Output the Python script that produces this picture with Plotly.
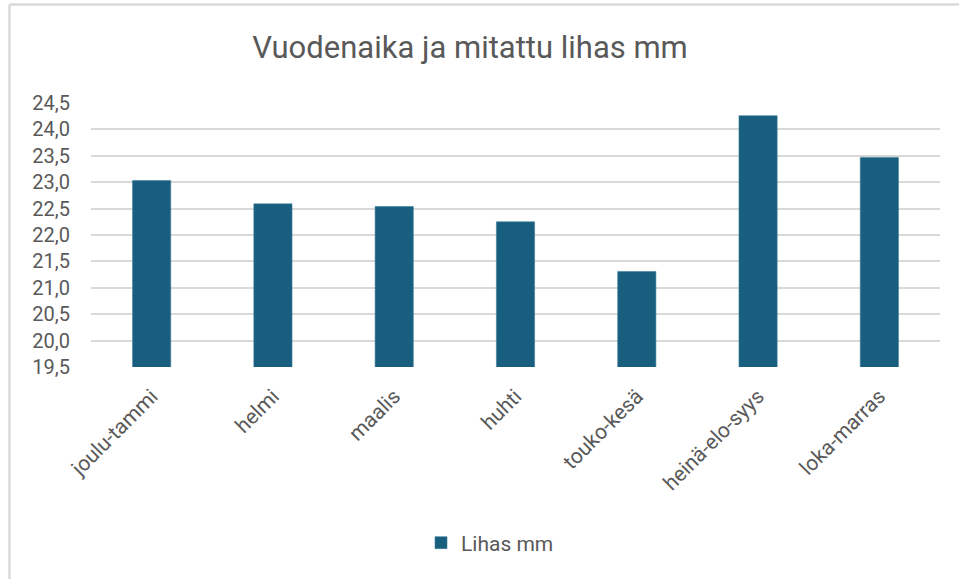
import plotly.graph_objects as go

categories = ["joulu-tammi", "helmi", "maalis", "huhti", "touko-kesä", "heinä-elo-syys", "loka-marras"]
lihas_mm = [23.03, 22.59, 22.54, 22.25, 21.31, 24.26, 23.47]
series_name = "Lihas mm"
title_text = "Vuodenaika ja mitattu lihas mm"
y_ticks = [19.5, 20.0, 20.5, 21.0, 21.5, 22.0, 22.5, 23.0, 23.5, 24.0, 24.5]

FONT = "Roboto"
TXT = "#595959"
GRID = "#d9d9d9"
BAR = "#175e7f"

fig = go.Figure()
fig.add_trace(go.Bar(
    x=categories, y=lihas_mm, name=series_name,
    marker=dict(color=BAR, line=dict(color="#3f7d99", width=0.6)),
    width=0.315, showlegend=True,
))

W, H = 959, 579
ml, mr, mt, mb = 91, 19, 103, 212
pw = W - ml - mr
ph = H - mt - mb

def px_x(x):
    return (x - ml) / pw

def px_y(y):
    return (H - mb - y) / ph

fig.update_layout(
    width=W, height=H,
    margin=dict(l=ml, r=mr, t=mt, b=mb),
    paper_bgcolor="white", plot_bgcolor="white",
    separators=", ",
    font=dict(family=FONT, color=TXT, size=20),
    title=dict(text=title_text, x=470 / W, xanchor="center", xref="container",
               y=1 - 47 / H, yanchor="middle", yref="container",
               font=dict(family=FONT, size=31, color=TXT)),
    xaxis=dict(tickangle=-45, showgrid=False, showline=False, ticks="",
               tickfont=dict(size=21, color=TXT), ticklabelstandoff=12),
    yaxis=dict(range=[19.5, 24.5], tickvals=y_ticks, tickformat=".1f",
               showgrid=True, gridcolor=GRID, gridwidth=1.8,
               zeroline=False, showline=False, ticks="",
               tickfont=dict(size=20, color=TXT), ticklabelstandoff=20),
    legend=dict(orientation="h", x=px_x(490), xanchor="center",
                y=px_y(543), yanchor="middle",
                font=dict(size=21, color=TXT)),
    shapes=[
        dict(type="line", xref="paper", yref="paper",
             x0=px_x(9.5), x1=px_x(W + 5), y0=px_y(4.5), y1=px_y(4.5),
             line=dict(color=GRID, width=2.5)),
        dict(type="line", xref="paper", yref="paper",
             x0=px_x(9.5), x1=px_x(9.5), y0=px_y(4.5), y1=px_y(H + 5),
             line=dict(color=GRID, width=2.5)),
    ],
)

fig.write_html("out.html", config={"displayModeBar": False},
               post_script="document.body.style.margin='0';")
